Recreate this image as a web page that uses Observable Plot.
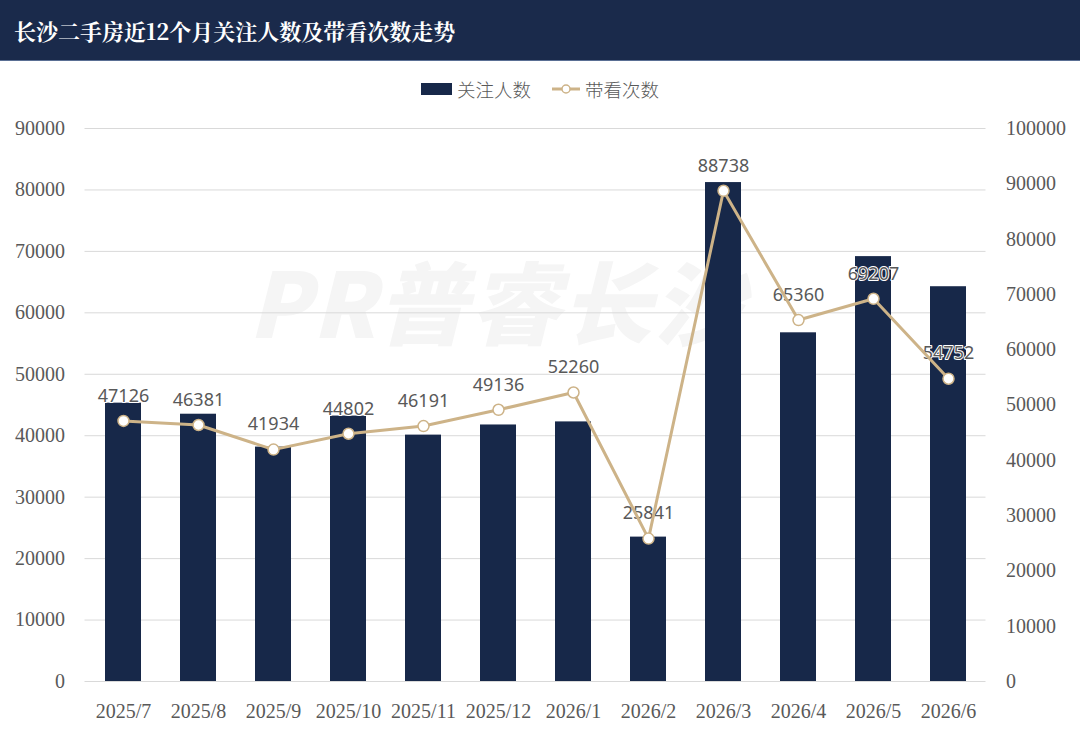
<!DOCTYPE html>
<html>
<head>
<meta charset="utf-8">
<script src="https://cdn.jsdelivr.net/npm/d3@7"></script>
<script src="https://cdn.jsdelivr.net/npm/@observablehq/plot@0.6"></script>
<style>
  html, body { margin: 0; padding: 0; background: #fff; width: 1080px; height: 733px; overflow: hidden; }
  #title { height: 61px; background: #1a2a4b; color: #fff; font-family: "Noto Serif CJK SC", "Noto Sans CJK SC", sans-serif; font-weight: 700; font-size: 22px; line-height: 61px; padding-left: 14px; border-bottom: 1px solid #5a6f94; box-sizing: border-box; }
  #wrap { position: relative; width: 1080px; height: 672px; }
  #wm { position: absolute; left: 248px; top: 192px; font-family: "Noto Sans CJK SC", sans-serif; font-weight: 900; font-style: italic; font-size: 90px; line-height: 92px; height: 92px; color: #f5f5f5; letter-spacing: 2px; z-index: 0; white-space: nowrap; }
  #chart { position: absolute; left: 0; top: 0; z-index: 1; }
  #chart svg { background: transparent; }
  #legend { position: absolute; top: 14px; left: 0; width: 1080px; text-align: center; z-index: 2; font-family: "Noto Sans CJK SC", sans-serif; font-weight: 300; font-size: 18.5px; color: #595959; }
  #legend span.item { display: inline-flex; align-items: center; margin: 0 8px; }
</style>
</head>
<body>
<div id="title">长沙二手房近12个月关注人数及带看次数走势</div>
<div id="wrap">
  <div id="wm">PR普睿长沙</div>
  <div id="chart"></div>
  <div id="legend">
    <span class="item"><svg width="32" height="14"><rect x="0" y="1" width="31" height="12" fill="#172849"/></svg><span style="margin-left:4px">关注人数</span></span>
    <span class="item"><svg width="30" height="14"><line x1="1" x2="29" y1="7" y2="7" stroke="#cdb388" stroke-width="3"/><circle cx="15" cy="7" r="4" fill="#fff" stroke="#cdb388" stroke-width="1.5"/></svg><span style="margin-left:4px">带看次数</span></span>
  </div>
</div>
<script>
const months = ["2025/7","2025/8","2025/9","2025/10","2025/11","2025/12","2026/1","2026/2","2026/3","2026/4","2026/5","2026/6"];
const followers = [45300, 43500, 38150, 43200, 40100, 41750, 42250, 23500, 81200, 56750, 69150, 64250];
const viewings = [47126, 46381, 41934, 44802, 46191, 49136, 52260, 25841, 88738, 65360, 69207, 54752];
const leftTicks = [0,10000,20000,30000,40000,50000,60000,70000,80000,90000];
const rightTicks = [0,10000,20000,30000,40000,50000,60000,70000,80000,90000,100000];

const ratio = 90000 / 100000;
const barData = months.map((m, i) => ({month: m, value: followers[i]}));
const lineData = months.map((m, i) => ({month: m, value: viewings[i], y: viewings[i] * ratio}));

const serif = "Liberation Serif, DejaVu Serif, serif";
const sans = "Noto Sans, DejaVu Sans, sans-serif";
const chart = Plot.plot({
  width: 1080,
  height: 672,
  marginTop: 67,
  marginBottom: 52,
  marginLeft: 84.5,
  marginRight: 94.5,
  style: "background: transparent; font-family: 'Liberation Serif', serif; color: #595959;",
  x: {domain: months, paddingInner: 0.52, paddingOuter: 0.26, label: null},
  y: {domain: [0, 90000], label: null},
  marks: [
    Plot.ruleY(leftTicks, {stroke: "#d9d9d9", strokeWidth: 1}),
    Plot.axisY(leftTicks, {anchor: "left", tickSize: 0, tickPadding: 20, tickFormat: d => String(d), fontSize: 20, fontFamily: serif, fill: "#595959", label: null}),
    Plot.axisY(rightTicks.map(t => t * ratio), {anchor: "right", tickSize: 0, tickPadding: 20, tickFormat: d => String(Math.round(d / ratio)), fontSize: 20, fontFamily: serif, fill: "#595959", label: null}),
    Plot.axisX({tickSize: 0, tickPadding: 22, fontSize: 20, fontFamily: serif, fill: "#595959", label: null}),
    Plot.barY(barData, {x: "month", y: "value", fill: "#172849"}),
    Plot.text(lineData, {x: "month", y: "y", text: d => String(d.value), dy: -25, fill: "#595959", stroke: "white", strokeWidth: 2, paintOrder: "stroke", fontFamily: sans, fontSize: 18}),
    Plot.line(lineData, {x: "month", y: "y", stroke: "#cdb388", strokeWidth: 3}),
    Plot.dot(lineData, {x: "month", y: "y", r: 5.5, fill: "white", stroke: "#cdb388", strokeWidth: 1.5})
  ]
});
document.getElementById("chart").appendChild(chart);
</script>
</body>
</html>
